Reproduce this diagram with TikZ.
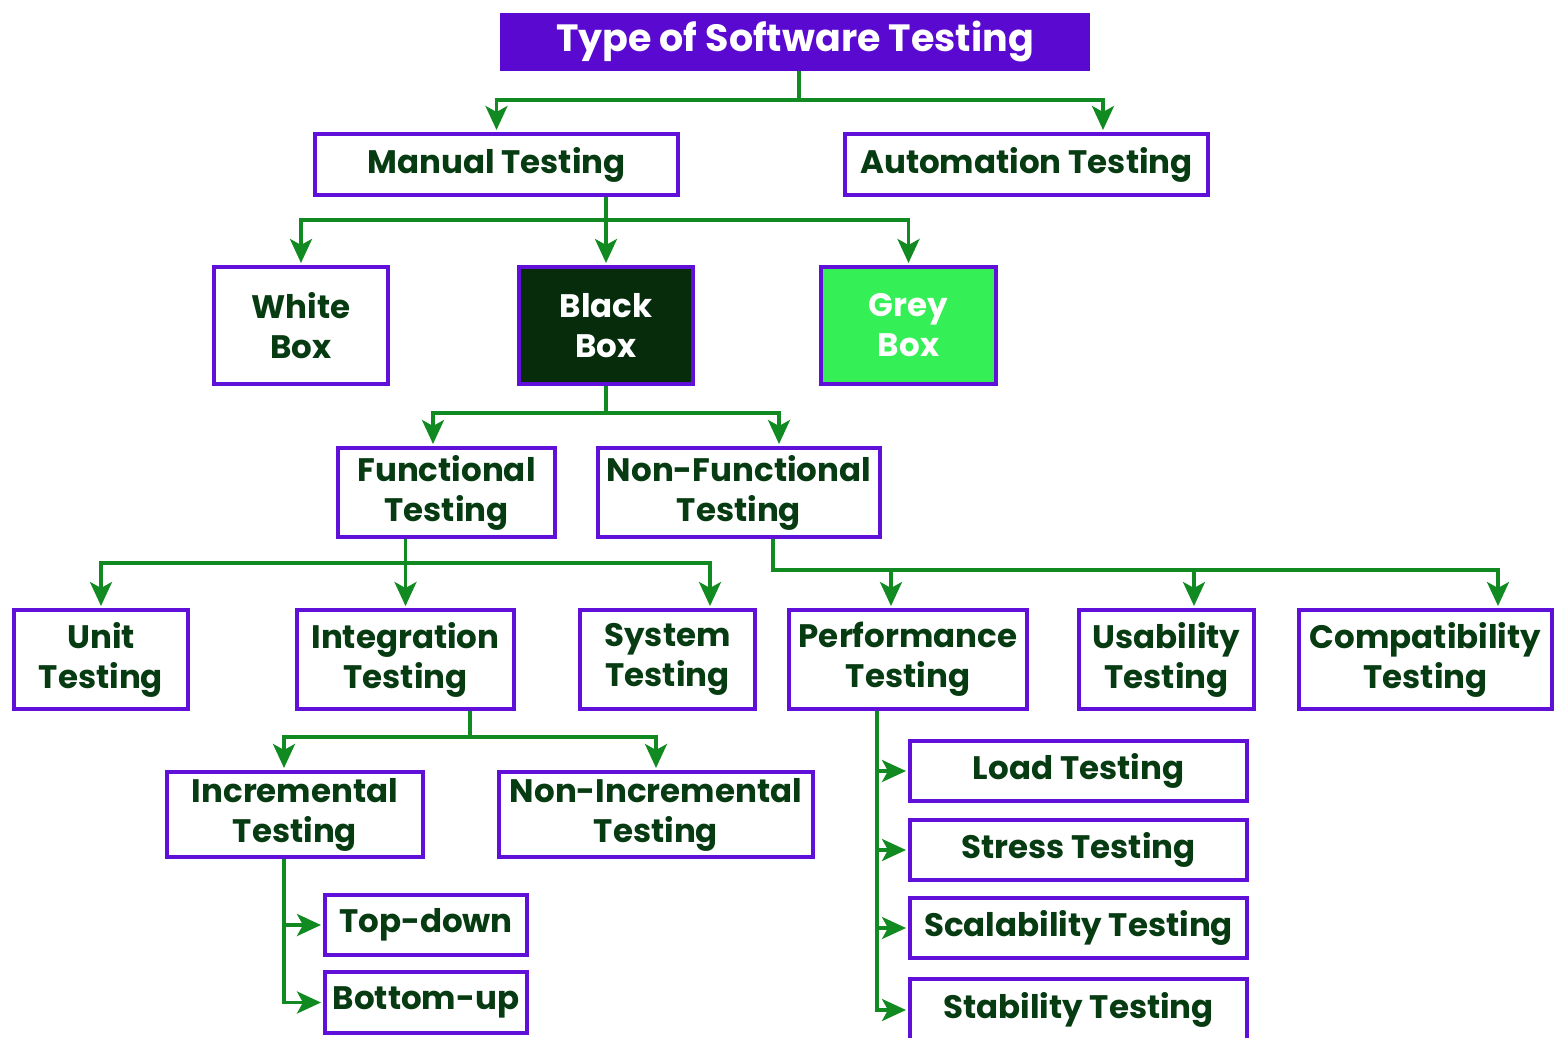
\documentclass[tikz,border=0pt]{standalone}
\usepackage{fontspec}
\setmainfont{Poppins}
\usetikzlibrary{arrows.meta}

\definecolor{boxline}{HTML}{6010D8}
\definecolor{headfill}{HTML}{5A0AD0}
\definecolor{linkgreen}{HTML}{128A22}
\definecolor{txtgreen}{HTML}{073B12}
\definecolor{blackfill}{HTML}{062C0C}
\definecolor{greyfill}{HTML}{34F056}

\begin{document}
\begin{tikzpicture}[x=1pt,y=-1pt,
  box/.style={draw=boxline,line width=4pt,fill=white,text=txtgreen,inner sep=0pt,
    align=center,font=\bfseries\fontsize{32.5}{40}\selectfont},
  headbox/.style={box,draw=headfill,fill=headfill,text=white,
    font=\bfseries\fontsize{38}{40}\selectfont},
  wire/.style={draw=linkgreen,line width=3.5pt},
  arr/.style={wire,-{Stealth[length=24pt,width=22pt,inset=6pt]},shorten >=2pt}]
\useasboundingbox (0,0) rectangle (1563,1038);

% boxes
\node[headbox,minimum width=586pt,minimum height=54pt] (root) at (795,42) {Type of Software Testing};
\node[box,minimum width=363pt,minimum height=61pt] (manual) at (496.5,164.5) {Manual Testing};
\node[box,minimum width=363pt,minimum height=61pt] (auto) at (1026.5,164.5) {Automation Testing};
\node[box,minimum width=174pt,minimum height=117pt] (white) at (301,325.5) {White\\Box};
\node[box,fill=blackfill,text=white,minimum width=174pt,minimum height=117pt] (black) at (606,325.5) {Black\\Box};
\node[box,fill=greyfill,text=white,minimum width=175pt,minimum height=117pt] (grey) at (908.5,325.5) {Grey\\Box};
\node[box,minimum width=217pt,minimum height=89pt] (func) at (446.5,492.5) {Functional\\Testing};
\node[box,minimum width=282pt,minimum height=89pt] (nonfunc) at (739,492.5) {Non-Functional\\Testing};
\node[box,minimum width=174pt,minimum height=99pt] (unit) at (101,659.5) {Unit\\Testing};
\node[box,minimum width=217pt,minimum height=99pt] (integ) at (405.5,659.5) {Integration\\Testing};
\node[box,minimum width=175pt,minimum height=99pt] (system) at (667.5,659.5) {System\\Testing};
\node[box,minimum width=238pt,minimum height=99pt] (perf) at (908,659.5) {Performance\\Testing};
\node[box,minimum width=175pt,minimum height=99pt] (usab) at (1166.5,659.5) {Usability\\Testing};
\node[box,minimum width=253pt,minimum height=99pt] (compat) at (1425.5,659.5) {Compatibility\\Testing};
\node[box,minimum width=256pt,minimum height=85pt] (incr) at (295,814.5) {Incremental\\Testing};
\node[box,minimum width=314pt,minimum height=85pt] (nonincr) at (656,814.5) {Non-Incremental\\Testing};
\node[box,minimum width=202pt,minimum height=60pt] (topdown) at (426,925) {Top-down};
\node[box,minimum width=202pt,minimum height=61pt] (bottomup) at (426,1002.5) {Bottom-up};
\node[box,minimum width=337pt,minimum height=60pt] (load) at (1078.5,771) {Load Testing};
\node[box,minimum width=337pt,minimum height=60pt] (stress) at (1078.5,850) {Stress Testing};
\node[box,minimum width=337pt,minimum height=60pt] (scal) at (1078.5,928) {Scalability Testing};
\node[box,minimum width=337pt,minimum height=62pt] (stab) at (1078.5,1010) {Stability Testing};

% bus points
\coordinate (rootbus) at (799,100);
\coordinate (manbus) at (606,220);
\coordinate (blkbus) at (606,413);
\coordinate (funbus) at (405.5,563);
\coordinate (nfbus) at (773,570);
\coordinate (intbus) at (470,737);

% links
\draw[arr] (root.south -| rootbus) -- (rootbus) -| (manual);
\draw[arr] (root.south -| rootbus) -- (rootbus) -| (auto.north -| 1103,0);
\draw[arr] (manual.south -| manbus) -- (manbus) -| (white);
\draw[arr] (manual.south -| manbus) -- (black);
\draw[arr] (manual.south -| manbus) -- (manbus) -| (grey);
\draw[arr] (black.south) -- (blkbus) -| (func.north -| 433,0);
\draw[arr] (black.south) -- (blkbus) -| (nonfunc.north -| 779,0);
\draw[arr] (func.south -| funbus) -- (funbus) -| (unit);
\draw[arr] (func.south -| funbus) -- (integ);
\draw[arr] (func.south -| funbus) -- (funbus) -| (system.north -| 710,0);
\draw[arr] (nonfunc.south -| nfbus) -- (nfbus) -| (perf.north -| 891,0);
\draw[arr] (nonfunc.south -| nfbus) -- (nfbus) -| (usab.north -| 1194,0);
\draw[arr] (nonfunc.south -| nfbus) -- (nfbus) -| (compat.north -| 1498,0);
\draw[arr] (integ.south -| intbus) -- (intbus) -| (incr.north -| 284,0);
\draw[arr] (integ.south -| intbus) -- (intbus) -| (nonincr);
\draw[arr] (incr.south -| 284,0) |- (topdown);
\draw[arr] (incr.south -| 284,0) |- (bottomup);
\draw[arr] (perf.south -| 877,0) |- (load);
\draw[arr] (perf.south -| 877,0) |- (stress);
\draw[arr] (perf.south -| 877,0) |- (scal);
\draw[arr] (perf.south -| 877,0) |- (stab);
\end{tikzpicture}
\end{document}
